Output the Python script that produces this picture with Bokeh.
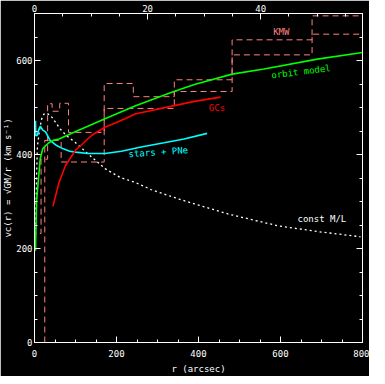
import math
from bokeh.plotting import figure
from bokeh.models import Range1d, LinearAxis, SingleIntervalTicker, Label, CustomJSTickFormatter
from bokeh.core.properties import value
from bokeh.embed import file_html
from bokeh.resources import INLINE

# ---------------- data ----------------
# orbit model (green)
orbit_r = [2.5, 3.5, 5, 9, 14, 20, 26, 35, 46, 60, 95, 172, 245, 333, 390, 482, 560, 690, 800]
orbit_v = [195, 240, 300, 341, 391, 412, 418, 425, 430, 433, 447, 476, 503, 532, 549, 571, 582, 603, 617]

# globular clusters (red)
gc_r = [45, 60, 76, 100, 140, 172, 221, 245, 341, 390, 454]
gc_v = [290, 341, 377, 409, 441, 458, 476, 486, 504, 513, 522]

# stars + PNe (cyan)
stars_r = [2.5, 3, 7, 10, 14, 20, 27, 38, 54, 70, 86, 100, 130, 172, 212, 260, 316, 365, 421]
stars_v = [472, 440, 441, 452, 460, 452, 448, 430, 419, 412, 407, 405, 402, 402, 407, 416, 425, 433, 445]

# constant M/L (white dotted)
ml_r = [2.5, 3.5, 5, 7, 12, 17.6, 23, 30, 40, 51, 62, 78, 99, 131, 172, 209, 245, 285, 353, 390, 474, 595, 700, 795]
ml_v = [230, 280, 350, 416, 451, 476, 486, 488, 482, 469, 455, 440, 426, 401, 370, 351, 341, 325, 305, 295, 273, 248, 235, 225]

# KMW binned estimates (pink dashed step curves): upper and lower bounds
kmw_hi_start = 232
kmw_hi_edges = [13, 16, 32, 43, 61.5, 83, 170, 241, 341, 482, 677, 800]
kmw_hi_vals = [232, 390, 508, 492, 509, 447, 551, 523, 559, 644, 695]

kmw_lo_start = 0
kmw_lo_edges = [25, 65, 170, 341, 482, 677, 800]
kmw_lo_vals = [430, 384, 498, 534, 612, 656]

label_texts = ["KMW", "orbit model", "GCs", "stars + PNe", "const M/L"]

KPC_MAX = 58.0
FONT = "DejaVu Sans Mono"
FS = "9px"

GREEN = "#00ff00"
RED = "#ff0000"
CYAN = "#00ffff"
PINK = "#ff8080"
WHITE = "#ffffff"


def step_xy(edges, vals, start):
    xs = [edges[0]]
    ys = [start]
    for i, v in enumerate(vals):
        xs += [edges[i], edges[i + 1]]
        ys += [v, v]
    return xs, ys


p = figure(width=369, height=376,
           x_range=Range1d(0, 800), y_range=Range1d(0, 700),
           output_backend="svg", toolbar_location=None,
           background_fill_color="black", border_fill_color="black",
           min_border_left=31, min_border_right=7,
           min_border_top=13, min_border_bottom=33,
           outline_line_color=WHITE, outline_line_width=1)
p.xgrid.visible = False
p.ygrid.visible = False

bottom = p.below[0]
left = p.left[0]

p.extra_x_ranges = {"kpc": Range1d(0, KPC_MAX)}

bottom.ticker = SingleIntervalTicker(interval=200, num_minor_ticks=4)
left.ticker = SingleIntervalTicker(interval=200, num_minor_ticks=4)
bottom.axis_label = "r (arcsec)"
left.axis_label = "vc(r) = √GM/r (km s⁻¹)"

top = LinearAxis(x_range_name="kpc",
                 ticker=SingleIntervalTicker(interval=20, num_minor_ticks=4))
p.add_layout(top, "above")
right = LinearAxis(ticker=SingleIntervalTicker(interval=200, num_minor_ticks=4),
                   formatter=CustomJSTickFormatter(code="return ''"))
p.add_layout(right, "right")

for ax in [bottom, left, top, right]:
    ax.axis_line_color = WHITE
    ax.major_tick_line_color = WHITE
    ax.minor_tick_line_color = WHITE
    ax.major_tick_in = 6
    ax.major_tick_out = 0
    ax.minor_tick_in = 3
    ax.minor_tick_out = 0
    ax.major_label_text_color = WHITE
    ax.major_label_text_font = FONT
    ax.major_label_text_font_size = FS
    ax.axis_label_text_color = WHITE
    ax.axis_label_text_font = FONT
    ax.axis_label_text_font_size = FS
    ax.axis_label_text_font_style = "normal"

bottom.major_label_standoff = 7
bottom.axis_label_standoff = 4
left.major_label_standoff = 2
left.axis_label_standoff = 0
top.major_label_standoff = 2
right.major_label_standoff = 0

# curves
hx, hy = step_xy(kmw_hi_edges, kmw_hi_vals, kmw_hi_start)
lx, ly = step_xy(kmw_lo_edges, kmw_lo_vals, kmw_lo_start)
p.line(hx, hy, line_color=PINK, line_width=1, line_dash="6 4")
p.line(lx, ly, line_color=PINK, line_width=1, line_dash="6 4")

p.line(ml_r, ml_v, line_color=WHITE, line_width=1.3, line_dash="2 3")
p.line(stars_r, stars_v, line_color=CYAN, line_width=1.6)
p.line(gc_r, gc_v, line_color=RED, line_width=1.6)
p.line(orbit_r, orbit_v, line_color=GREEN, line_width=1.6)

# labels
lab_x = [602, 650, 445, 302, 701]
lab_y = [660, 576, 498, 405, 263]
lab_ang = [0, 7, 0, 4, 0]
lab_col = [PINK, GREEN, RED, CYAN, WHITE]
for t, x, y, a, c in zip(label_texts, lab_x, lab_y, lab_ang, lab_col):
    p.text(x=[x], y=[y], text=[t], angle=math.radians(a), text_color=c,
           text_font=value(FONT), text_font_size=FS,
           text_align="center", text_baseline="middle")

p.add_layout(Label(x=413, y=700, text="r (kpc)", x_units="data", y_units="data",
                   y_offset=2, text_color=WHITE, text_font=FONT, text_font_size=FS,
                   text_align="center", text_baseline="bottom"))

open("out.html", "w").write(file_html(p, INLINE))
